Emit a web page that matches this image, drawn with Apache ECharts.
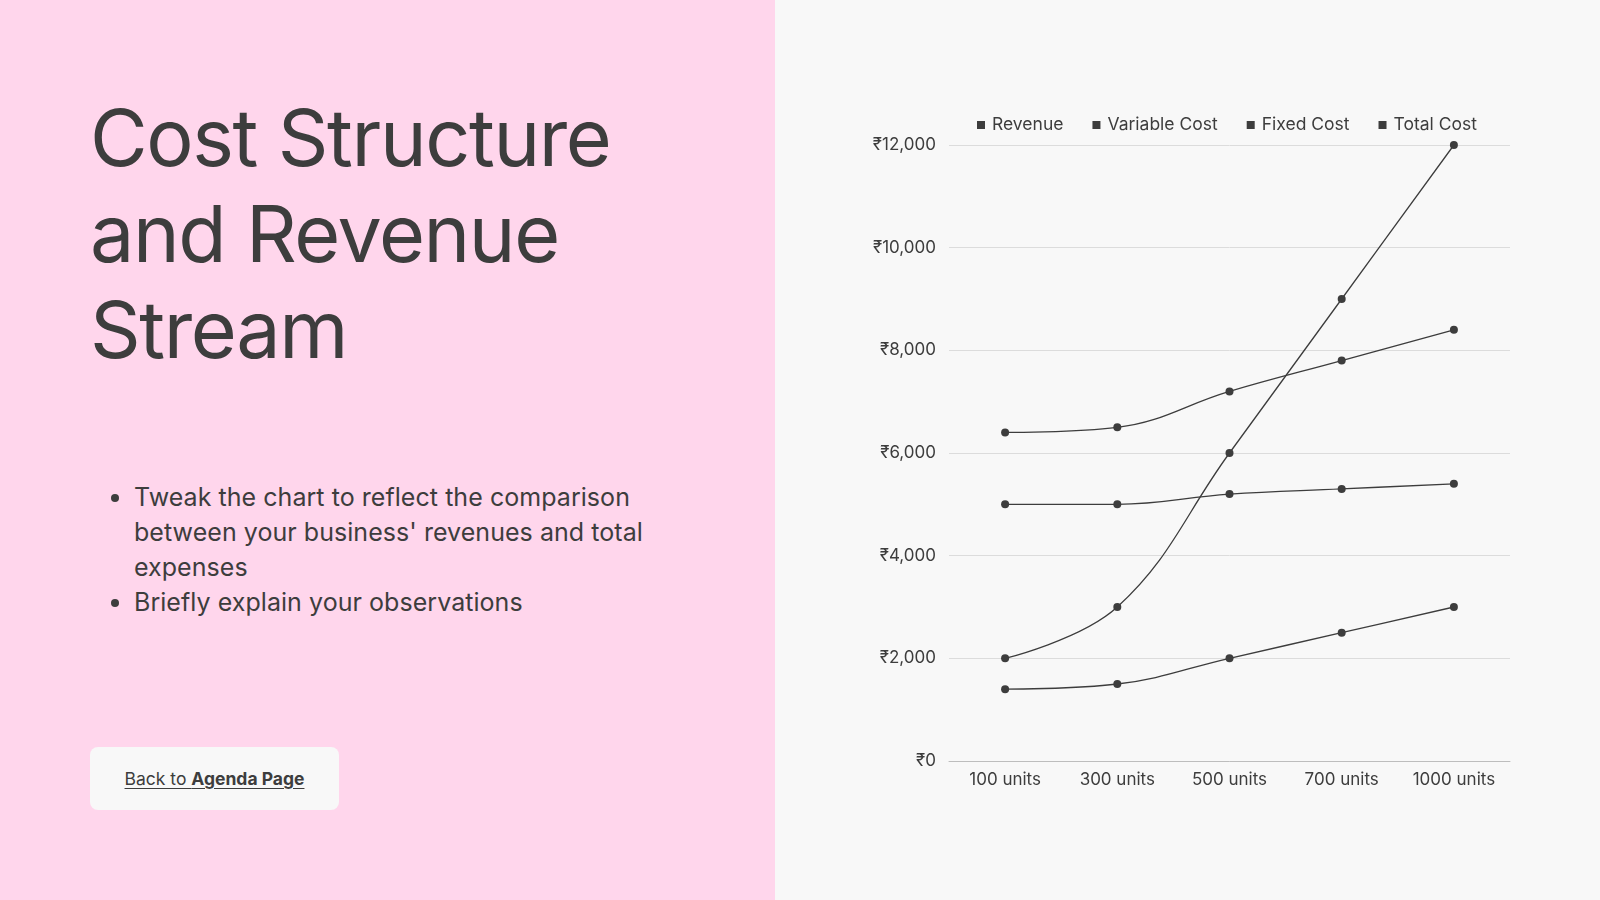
<!DOCTYPE html>
<html>
<head>
<meta charset="utf-8">
<title>Cost Structure and Revenue Stream</title>
<script src="https://cdn.jsdelivr.net/npm/echarts@6/dist/echarts.min.js"></script>
<style>
  html, body { margin: 0; padding: 0; width: 1600px; height: 900px; overflow: hidden; background: #f8f8f8; }
  body { font-family: Inter, "Noto Sans", "DejaVu Sans", sans-serif; color: #3d3d3d; position: relative; }
  #left { position: absolute; left: 0; top: 0; width: 775px; height: 900px; background: #ffd6ec; }
  #title { position: absolute; left: 90px; top: 89px; margin: 0; font-weight: 400; font-size: 79px; line-height: 96px; letter-spacing: -1.4px; }
  #notes { position: absolute; left: 110px; top: 480px; margin: 0; padding: 0 0 0 24px; font-size: 25px; line-height: 35px; width: 540px; letter-spacing: 0.05px; }
  #back { position: absolute; left: 90px; top: 747px; width: 249px; height: 63px; background: #f8f8f8; border-radius: 8px;
          display: flex; align-items: center; justify-content: center; font-size: 17.5px; }
  #back a { color: #3d3d3d; text-decoration: underline; text-underline-offset: 3px; }
  #chart { position: absolute; left: 775px; top: 0; width: 825px; height: 900px; }
</style>
</head>
<body>
<div id="left">
  <h1 id="title">Cost Structure<br>and Revenue<br>Stream</h1>
  <ul id="notes">
    <li>Tweak the chart to reflect the comparison between your business' revenues and total expenses</li>
    <li>Briefly explain your observations</li>
  </ul>
  <div id="back"><a href="#">Back to <b>Agenda Page</b></a></div>
</div>
<div id="chart"></div>
<script>
  // 数据
  const categories = ['100 units', '300 units', '500 units', '700 units', '1000 units']
  const revenue = [2000, 3000, 6000, 9000, 12000]
  const variableCost = [1400, 1500, 2000, 2500, 3000]
  const fixedCost = [5000, 5000, 5200, 5300, 5400]
  const totalCost = [6400, 6500, 7200, 7800, 8400]

  const ink = '#3d3d3d'
  const font = 'Inter, "Noto Sans", "DejaVu Sans", sans-serif'

  const chart = echarts.init(document.getElementById('chart'))

  function lineSeries(name, data) {
    return {
      name: name,
      type: 'line',
      data: data,
      smooth: 0.4,
      symbol: 'circle',
      symbolSize: 8,
      lineStyle: { color: ink, width: 1.3 },
      itemStyle: { color: ink },
      emphasis: { disabled: true }
    }
  }

  chart.setOption({
    animation: false,
    textStyle: { fontFamily: font, color: ink },
    color: [ink, ink, ink, ink],
    legend: {
      left: 197,
      top: 111,
      icon: 'rect',
      itemWidth: 8,
      itemHeight: 8,
      itemGap: 29,
      textStyle: { fontSize: 17.5, color: ink, fontFamily: font, padding: [0, 0, 0, 2] }
    },
    grid: { left: 174, right: 90, top: 145, bottom: 139, containLabel: false },
    xAxis: {
      type: 'category',
      data: categories,
      boundaryGap: true,
      axisLine: { lineStyle: { color: '#bdbdbd', width: 1 } },
      axisTick: { show: false },
      axisLabel: { fontSize: 17, color: ink, margin: 10, fontFamily: font }
    },
    yAxis: {
      type: 'value',
      min: 0,
      max: 12000,
      interval: 2000,
      axisLine: { show: false },
      axisTick: { show: false },
      splitLine: { lineStyle: { color: '#dcdcdc', width: 1 } },
      axisLabel: {
        fontSize: 17,
        color: ink,
        margin: 13,
        fontFamily: font,
        formatter: function (v) { return '₹' + v.toLocaleString('en-US') }
      }
    },
    series: [
      lineSeries('Revenue', revenue),
      lineSeries('Variable Cost', variableCost),
      lineSeries('Fixed Cost', fixedCost),
      lineSeries('Total Cost', totalCost)
    ]
  })
</script>
</body>
</html>
